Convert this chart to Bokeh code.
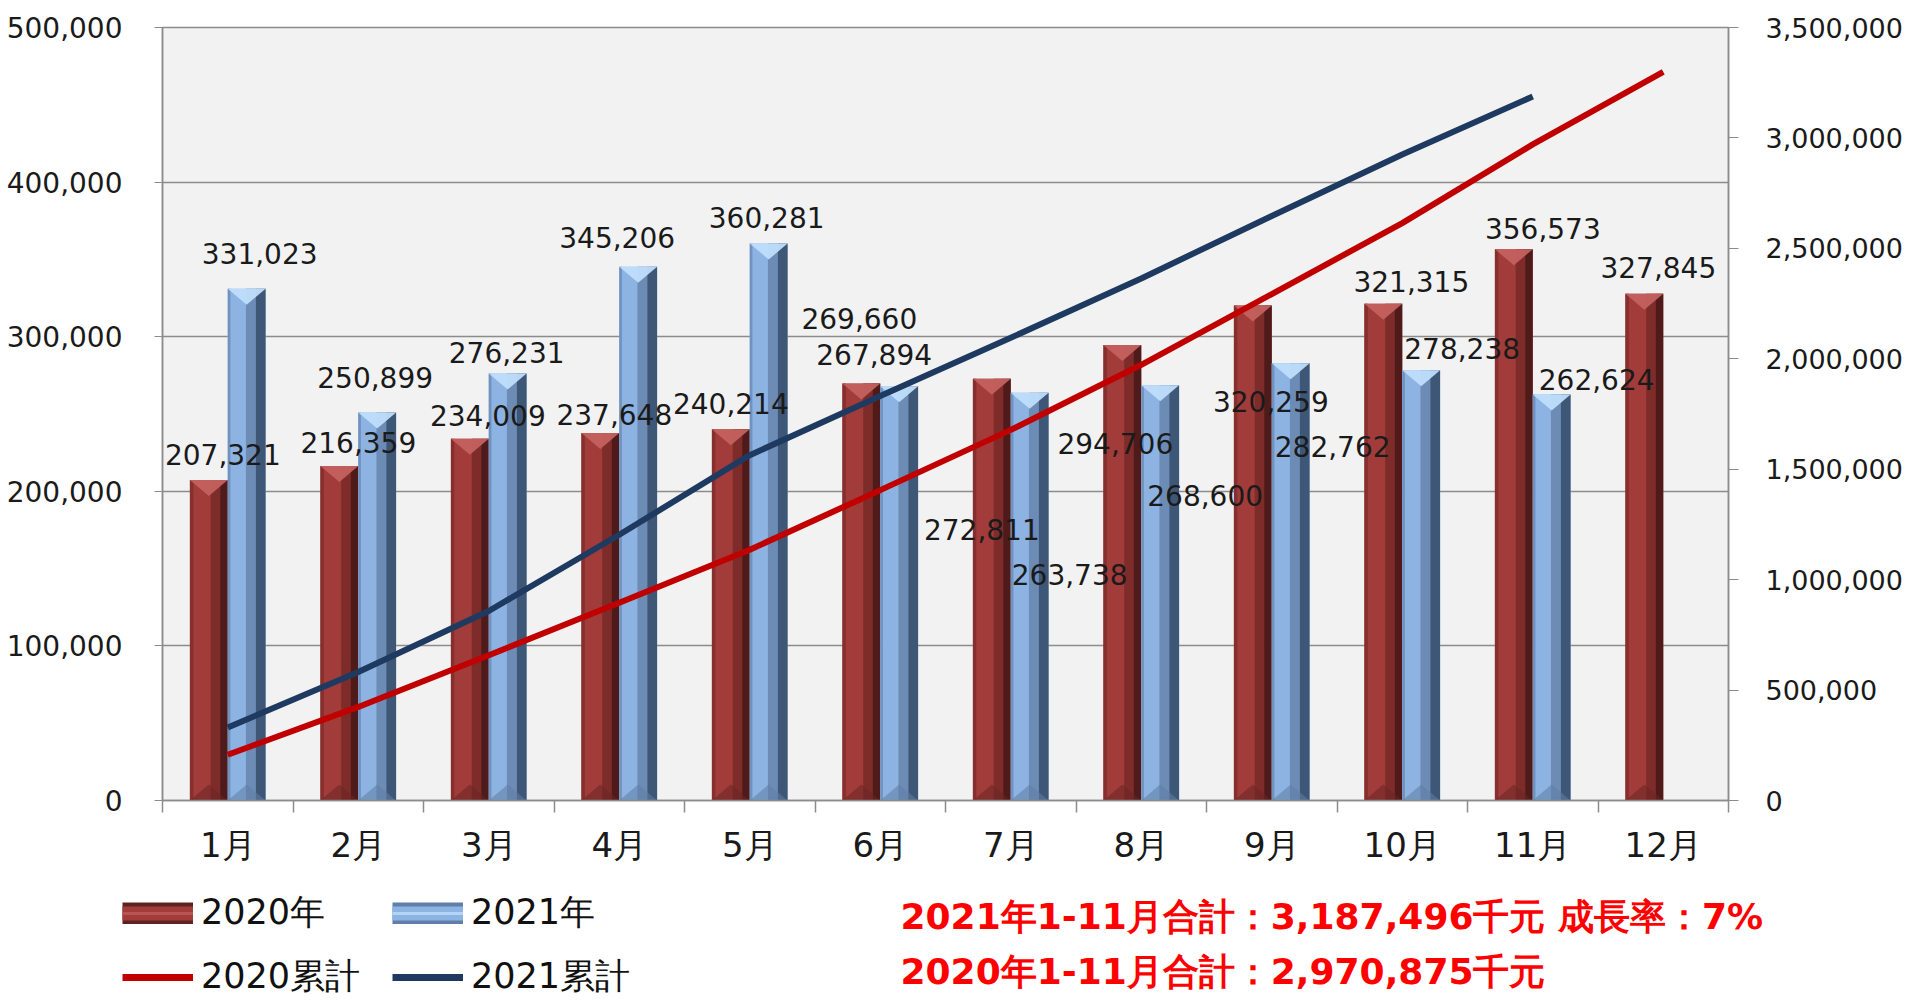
import numpy as np
from bokeh.plotting import figure
from bokeh.layouts import column, row
from bokeh.models import (Range1d, LinearAxis, FixedTicker, NumeralTickFormatter,
                          ColumnDataSource, Legend, LegendItem, Label)
from bokeh.core.properties import value
from bokeh.embed import file_html
from bokeh.resources import INLINE

# ---------------- data ----------------
months = ["1月", "2月", "3月", "4月", "5月", "6月", "7月", "8月", "9月", "10月", "11月", "12月"]
sales_2020 = [207321, 216359, 234009, 237648, 240214, 269660, 272811, 294706, 320259, 321315, 356573, 327845]
sales_2021 = [331023, 250899, 276231, 345206, 360281, 267894, 263738, 268600, 282762, 278238, 262624]
left_ticks = [0, 100000, 200000, 300000, 400000, 500000]
right_ticks = [0, 500000, 1000000, 1500000, 2000000, 2500000, 3000000, 3500000]
series_names = ["2020年", "2021年", "2020累計", "2021累計"]
note_2021 = "2021年1-11月合計：3,187,496千元 成長率：7%"
note_2020 = "2020年1-11月合計：2,970,875千元"

# data-label nudges in screen pixels (style only)
off_x_2020 = [14, 19, 18, 14, 0, -2, -10, -7, 18, 28, 29, 14]
off_y_2020 = [-25, -24, -23, -19, -26, -65, 151, 99, 96, -22, -21, -26]
off_x_2021 = [13, -2, -1, -21, -2, -25, 40, 45, 42, 41, 45]
off_y_2021 = [-35, -35, -21, -29, -26, -32, 182, 110, 83, -22, -15]

# ---------------- main figure ----------------
FONT = "DejaVu Sans"
W, H, H2 = 1915, 870, 130
W_LEG = 700
ML, MR, MT, MB = 162, 187, 27, 70
Y_MAX = 500000
frame_h = H - MT - MB
GRAY = "#8C8C8C"

p = figure(width=W, height=H, output_backend="svg", toolbar_location=None,
           x_range=Range1d(0.5, 12.5), y_range=Range1d(0, Y_MAX),
           min_border_left=ML, min_border_right=MR, min_border_top=MT, min_border_bottom=MB,
           background_fill_color="#F2F2F2", border_fill_color="white",
           outline_line_color=GRAY, outline_line_width=1.5)
p.extra_y_ranges = {"cum": Range1d(0, 3500000)}

x_idx = np.arange(1, len(months) + 1)
bar_w = 0.29
bevel = 16 * Y_MAX / frame_h  # 16 px bevel expressed in data units


def bevel_bars(xc, vals, pal):
    xc = np.asarray(xc, dtype=float)
    vals = np.asarray(vals, dtype=float)
    src = ColumnDataSource(dict(x=xc, top=vals))
    main = p.vbar(x="x", top="top", bottom=0, width=bar_w, source=src,
                  fill_color=pal["main"], line_color=None)
    for (a, b), col in [((0.0, pal["lw"]), pal["edge_l"]),
                        ((pal["m1"], pal["m2"]), pal["mid"]),
                        ((pal["m2"], 1.0), pal["dark"])]:
        cx = xc - bar_w / 2 + bar_w * (a + b) / 2
        p.vbar(x=cx, top=vals, bottom=0, width=bar_w * (b - a),
               fill_color=col, line_color=None)
    xs = [[x - bar_w / 2, x + bar_w / 2, x] for x in xc]
    ys = [[v, v, v - bevel] for v in vals]
    p.patches(xs, ys, fill_color=pal["top"], line_color=None, fill_alpha=0.95)
    ysb = [[0, 0, bevel] for v in vals]
    p.patches(xs, ysb, fill_color=pal["bottom"], line_color=None, fill_alpha=0.55)
    return main


red_pal = dict(main="#A13C3A", edge_l="#85302E", mid="#7E2C2A", dark="#4E1B1A",
               top="#C4615F", bottom="#6A2422", lw=0.09, m1=0.55, m2=0.8)
blue_pal = dict(main="#8DB3E2", edge_l="#7192BE", mid="#6D8CB5", dark="#3E5777",
                top="#C0DEFC", bottom="#5E7DA6", lw=0.07, m1=0.48, m2=0.74)

x2020 = x_idx - bar_w / 2
x2021 = x_idx[:len(sales_2021)] + bar_w / 2
bevel_bars(x2020, sales_2020, red_pal)
bevel_bars(x2021, sales_2021, blue_pal)

cum_2020 = np.cumsum(sales_2020)
cum_2021 = np.cumsum(sales_2021)
RED_LINE, BLUE_LINE = "#C00000", "#1F3A60"
p.line(x_idx, cum_2020, y_range_name="cum", line_color=RED_LINE, line_width=6)
p.line(x_idx[:len(sales_2021)], cum_2021, y_range_name="cum", line_color=BLUE_LINE, line_width=6)

lab20 = ColumnDataSource(dict(x=x2020, y=sales_2020, t=[f"{v:,}" for v in sales_2020],
                              dx=off_x_2020, dy=off_y_2020))
lab21 = ColumnDataSource(dict(x=x2021, y=sales_2021, t=[f"{v:,}" for v in sales_2021],
                              dx=off_x_2021, dy=off_y_2021))
for s in (lab20, lab21):
    p.text(x="x", y="y", text="t", x_offset="dx", y_offset="dy", source=s,
           text_font=value(FONT), text_font_size="28px", text_color="#1A1A1A",
           text_align="center", text_baseline="middle")

# ---------------- axes ----------------
p.grid.visible = False
p.ygrid.visible = True
p.ygrid.ticker = FixedTicker(ticks=left_ticks)
p.ygrid.grid_line_color = GRAY
p.ygrid.grid_line_width = 1.5

ya = p.yaxis[0]
ya.ticker = FixedTicker(ticks=left_ticks)
ya.formatter = NumeralTickFormatter(format="0,0")
ya.major_label_text_font = FONT
ya.major_label_text_font_size = "28px"
ya.major_label_text_color = "#1A1A1A"
ya.major_tick_in = 0
ya.major_tick_out = 8
ya.minor_tick_line_color = None
ya.major_label_standoff = 32
ya.axis_line_color = GRAY
ya.major_tick_line_color = GRAY
ya.axis_line_width = 1.5

ry = LinearAxis(y_range_name="cum", ticker=FixedTicker(ticks=right_ticks),
                formatter=NumeralTickFormatter(format="0,0"))
ry.major_label_text_font = FONT
ry.major_label_text_font_size = "27px"
ry.major_label_text_color = "#1A1A1A"
ry.major_tick_in = 0
ry.major_tick_out = 10
ry.minor_tick_line_color = None
ry.major_label_standoff = 27
ry.axis_line_color = GRAY
ry.major_tick_line_color = GRAY
ry.axis_line_width = 1.5
p.add_layout(ry, "right")

xa = p.xaxis[0]
xa.ticker = FixedTicker(ticks=list(x_idx), minor_ticks=list(x_idx - 0.5) + [x_idx[-1] + 0.5])
xa.major_label_overrides = {int(i): m for i, m in zip(x_idx, months)}
xa.major_label_text_font = FONT
xa.major_label_text_font_size = "34px"
xa.major_label_text_color = "#1A1A1A"
xa.major_tick_in = 0
xa.major_tick_out = 0
xa.minor_tick_in = 0
xa.minor_tick_out = 12
xa.minor_tick_line_color = GRAY
xa.minor_tick_line_width = 1.5
xa.major_label_standoff = 12
xa.axis_line_color = GRAY
xa.axis_line_width = 1.5


# ---------------- bottom strip: legend + notes ----------------
def strip(width):
    f = figure(width=width, height=H2, output_backend="svg", toolbar_location=None,
               x_range=Range1d(0, width), y_range=Range1d(0, H2),
               x_axis_location=None, y_axis_location=None,
               min_border_left=0, min_border_right=0, min_border_top=0, min_border_bottom=0,
               outline_line_color=None, background_fill_color="white",
               border_fill_color="white")
    f.grid.visible = False
    return f


p_leg = strip(W_LEG)
p_note = strip(W - W_LEG)


# hidden proxies (same data) so the legend can draw its swatches
def swatch(xv, yv, edge, fill, hi):
    a = p_leg.line(xv, yv, line_color=edge, line_width=22, visible=False)
    b = p_leg.line(xv, yv, line_color=fill, line_width=14, visible=False)
    c = p_leg.line(xv, yv, line_color=hi, line_width=3, visible=False)
    return [a, b, c]


sw20 = swatch(x2020, sales_2020, "#5E2220", red_pal["main"], "#B85553")
sw21 = swatch(x2021, sales_2021, "#5F7FA8", blue_pal["main"], "#B4D4F6")
kl20 = p_leg.line(x_idx, cum_2020, line_color=RED_LINE, line_width=7, visible=False)
kl21 = p_leg.line(x_idx[:len(sales_2021)], cum_2021, line_color=BLUE_LINE, line_width=7,
                  visible=False)

legend = Legend(items=[LegendItem(label=series_names[0], renderers=sw20),
                       LegendItem(label=series_names[1], renderers=sw21),
                       LegendItem(label=series_names[2], renderers=[kl20]),
                       LegendItem(label=series_names[3], renderers=[kl21])],
                orientation="horizontal", ncols=2,
                location=(122, 0), glyph_width=71, glyph_height=22,
                label_standoff=8, label_width=174, spacing=17,
                label_text_font=FONT, label_text_font_size="35px", label_text_color="#111111",
                padding=0, margin=0, border_line_color=None, background_fill_alpha=0,
                inactive_fill_alpha=0, click_policy="none")
p_leg.add_layout(legend)

for txt, yy in ((note_2021, 84), (note_2020, 29)):
    p_note.add_layout(Label(x=900 - W_LEG, y=yy, text=txt,
                            text_color="#FF0000", text_font=FONT, text_font_style="bold",
                            text_font_size="36px", text_baseline="middle", text_align="left"))

layout = column(p, row(p_leg, p_note, spacing=0), spacing=0)
open("out.html", "w").write(file_html(layout, INLINE))
